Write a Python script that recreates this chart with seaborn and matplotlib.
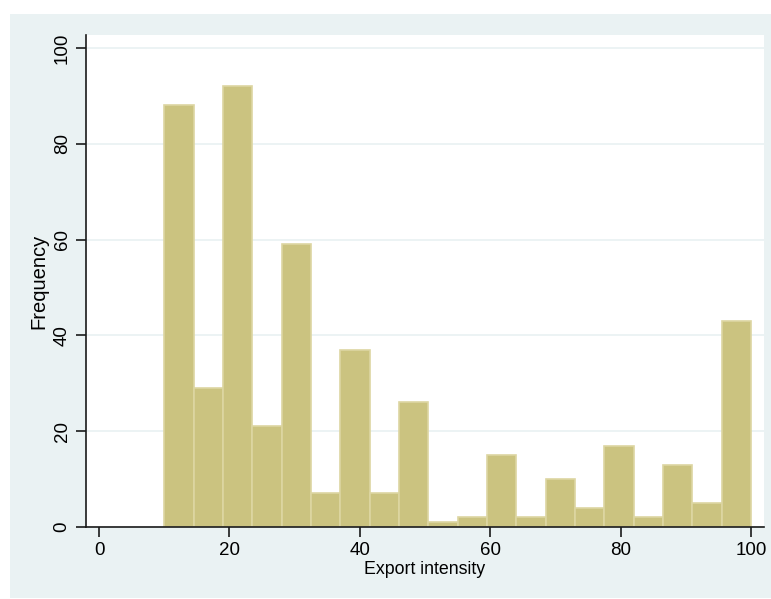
import numpy as np
import pandas as pd
import matplotlib
matplotlib.use("Agg")
import matplotlib.pyplot as plt
import seaborn as sns
from matplotlib.patches import Rectangle

# histogram data: 20 bins of width 4.5 from 10 to 100
bin_edges = [10 + 4.5 * i for i in range(21)]
counts = [88, 29, 92, 21, 59, 7, 37, 7, 26, 1, 2, 15, 2, 10, 4, 17, 2, 13, 5, 43]
x_ticks = [0, 20, 40, 60, 80, 100]
y_ticks = [0, 20, 40, 60, 80, 100]

mids = [(bin_edges[i] + bin_edges[i + 1]) / 2 for i in range(len(counts))]
df = pd.DataFrame({"export_intensity": mids, "n": counts})

sns.set_style("white")
plt.rcParams["font.family"] = ["Liberation Sans", "DejaVu Sans"]
plt.rcParams["text.color"] = "black"
plt.rcParams["axes.labelcolor"] = "black"
plt.rcParams["xtick.color"] = "black"
plt.rcParams["ytick.color"] = "black"

fig = plt.figure(figsize=(7.71, 5.99), dpi=100)
fig.patch.set_facecolor("white")
# Stata-like light blue-grey graph region
fig.patches.append(Rectangle((10 / 771, 1 / 599), 761 / 771, 584 / 599,
                             transform=fig.transFigure, facecolor="#EAF2F3",
                             edgecolor="none", zorder=-10))

ax = fig.add_axes([86 / 771, 1 - 527 / 599, 678 / 771, 492 / 599])
ax.set_facecolor("white")

sns.histplot(data=df, x="export_intensity", weights="n", bins=bin_edges,
             color="#CBC380", alpha=1, edgecolor="#DDD6A2", linewidth=1.2, ax=ax)

ax.set_xlim(-2, 102)
ax.set_ylim(0, 102.7)
ax.set_xticks(x_ticks)
ax.set_yticks(y_ticks)
ax.yaxis.grid(True, color="#EAF2F3", linewidth=1.3)
ax.set_axisbelow(True)

for s in ["top", "right"]:
    ax.spines[s].set_visible(False)
for s in ["left", "bottom"]:
    ax.spines[s].set_color("#1a1a1a")
    ax.spines[s].set_linewidth(1.2)

ax.tick_params(axis="both", length=7, width=1.2, color="#1a1a1a",
               labelsize=13.5, pad=4, bottom=True, left=True)
plt.setp(ax.get_yticklabels(), rotation=90, va="center")

ax.set_xlabel("Export intensity", fontsize=12.8, labelpad=1)
ax.set_ylabel("Frequency", fontsize=14.5, labelpad=3.5)

fig.savefig("out.png", dpi=100)
